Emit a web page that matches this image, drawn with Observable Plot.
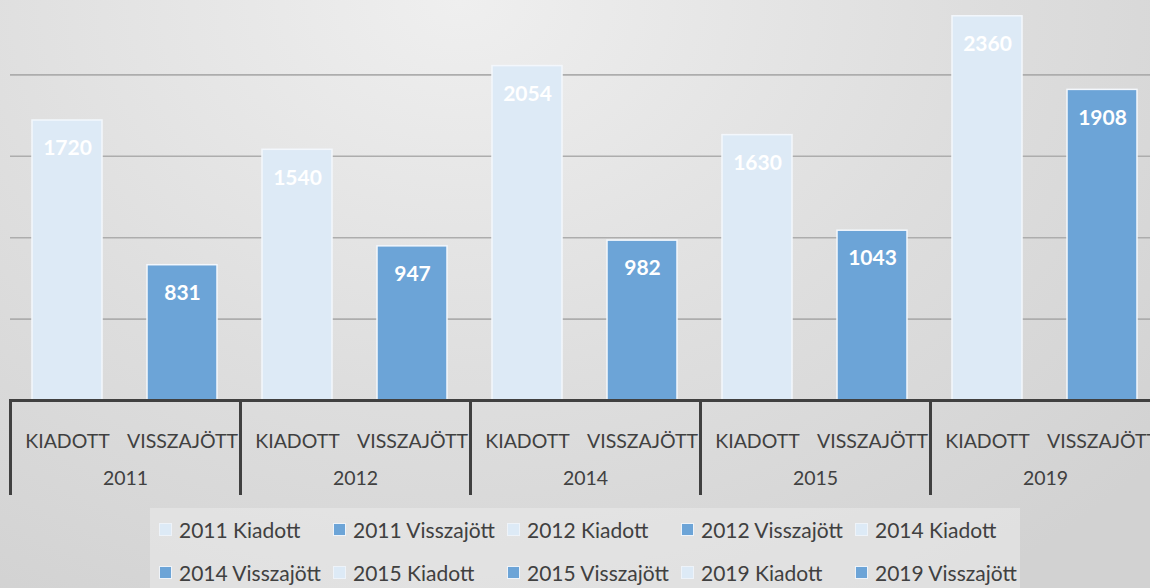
<!DOCTYPE html>
<html>
<head>
<meta charset="utf-8">
<script src="https://cdn.jsdelivr.net/npm/d3@7"></script>
<script src="https://cdn.jsdelivr.net/npm/@observablehq/plot@0.6"></script>
<style>
  html, body { margin: 0; padding: 0; width: 1150px; height: 588px; overflow: hidden; }
  body {
    background: radial-gradient(ellipse 80% 120% at 40% 0%, #efefef 0%, #dedede 55%, #d2d2d2 100%);
    font-family: Lato, "Open Sans", sans-serif;
  }
  #chart svg { display: block; margin-top: -7px; max-width: none !important; }
  #legend {
    position: absolute; left: 150px; top: 508px; width: 870px; height: 80px;
    background: rgba(235,235,235,0.55);
    display: grid; grid-template-columns: repeat(5, 174px); grid-auto-rows: 43px;
    padding-left: 9px; box-sizing: border-box; align-items: center;
    font-size: 21px; color: #404040;
  }
  .item { display: flex; align-items: center; white-space: nowrap; }
  .sw { width: 13px; height: 13px; margin-right: 7px; box-sizing: border-box; border: 1px solid #eef3f9; }
</style>
</head>
<body>
<div id="chart"></div>
<div id="legend"></div>
<script>
const years = ["2011", "2012", "2014", "2015", "2019"];
const types = ["KIADOTT", "VISSZAJÖTT"];
const kiadott = [1720, 1540, 2054, 1630, 2360];
const visszajott = [831, 947, 982, 1043, 1908];
const legendTypes = ["Kiadott", "Visszajött"];
const gridTicks = [500, 1000, 1500, 2000];
const colors = ["#ddeaf6", "#6ca4d7"];

const rows = [];
years.forEach((yr, i) => {
  rows.push({year: yr, type: types[0], value: kiadott[i]});
  rows.push({year: yr, type: types[1], value: visszajott[i]});
});

const plot = Plot.plot({
  width: 1170,
  height: 507,
  marginLeft: 10,
  marginRight: 10,
  marginTop: 0,
  marginBottom: 100,
  style: {color: "#404040", background: "transparent", fontFamily: "Lato, 'Open Sans', sans-serif"},
  fx: {domain: years, padding: 0, axis: null, label: null},
  x: {domain: types, paddingInner: 0.39, paddingOuter: 0.195, axis: null, label: null},
  y: {domain: [0, 2500], axis: null},
  color: {domain: types, range: colors},
  marks: [
    Plot.ruleY(gridTicks, {stroke: "#adadad", strokeWidth: 1.6}),
    Plot.barY(rows, {fx: "year", x: "type", y: "value", fill: "type", stroke: "#f3f7fc", strokeWidth: 1.5}),
    Plot.text(rows, {fx: "year", x: "type", y: "value", text: d => String(d.value), dy: 28, fill: "white", fontWeight: "bold", fontSize: 21}),
    Plot.ruleY([0], {stroke: "#404040", strokeWidth: 3}),
    Plot.frame({anchor: "left", stroke: "#404040", strokeWidth: 3, insetTop: 407, insetBottom: -93}),
    Plot.axisX({anchor: "bottom", tickSize: 0, tickPadding: 34, fontSize: 19.5, label: null, fill: "#404040"}),
    Plot.axisFx({anchor: "bottom", tickSize: 0, tickPadding: 71, fontSize: 19.5, label: null, fill: "#404040"})
  ]
});
document.getElementById("chart").appendChild(plot);

const legend = document.getElementById("legend");
years.forEach(yr => {
  legendTypes.forEach((t, j) => {
    const item = document.createElement("div");
    item.className = "item";
    const sw = document.createElement("span");
    sw.className = "sw";
    sw.style.background = colors[j];
    const lab = document.createElement("span");
    lab.textContent = yr + " " + t;
    item.appendChild(sw);
    item.appendChild(lab);
    legend.appendChild(item);
  });
});
</script>
</body>
</html>
